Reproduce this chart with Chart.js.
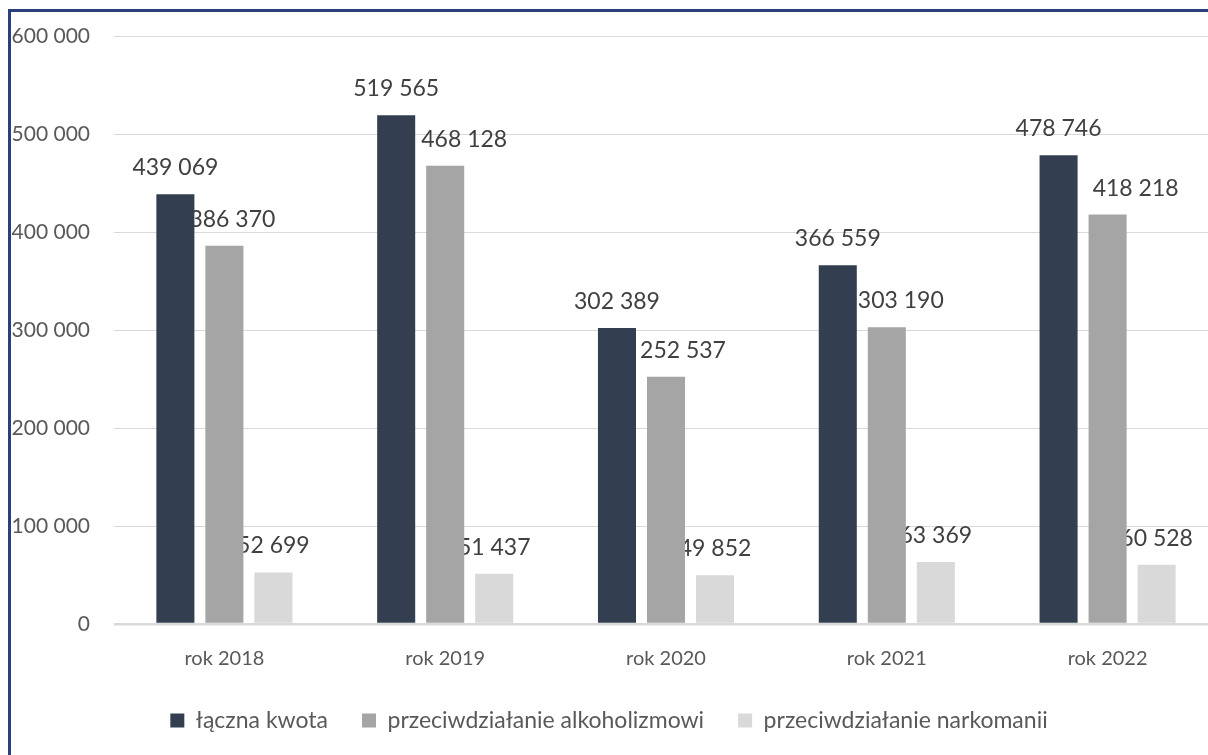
<!DOCTYPE html>
<html>
<head>
<meta charset="utf-8">
<script src="https://cdn.jsdelivr.net/npm/chart.js@4"></script>
<style>
  body { margin: 0; background: #fff; overflow: hidden; width: 1208px; height: 755px; }
  #frame { position: absolute; left: 8px; top: 9px; width: 1300px; height: 900px; border: 3px solid #2A3F7C; }
  #box { position: absolute; left: 0; top: 0; width: 1220px; height: 755px; }
</style>
</head>
<body>
<div id="frame"></div>
<div id="box"><canvas id="chart"></canvas></div>
<script>
const years = ['rok 2018', 'rok 2019', 'rok 2020', 'rok 2021', 'rok 2022'];
const total = [439069, 519565, 302389, 366559, 478746];
const alcohol = [386370, 468128, 252537, 303190, 418218];
const drugs = [52699, 51437, 49852, 63369, 60528];

const txt = '#595959';
const font = 'Lato, "Noto Sans", sans-serif';

function spaced(v) {
    return v.toString().replace(/\B(?=(\d{3})+(?!\d))/g, ' ');
}

// labels go under the bars, like in the original
// the middle series had its labels pushed to the right a bit
const valueLabels = {
    id: 'valueLabels',
    beforeDatasetsDraw(chart, args, opts) {
        const ctx = chart.ctx;
        ctx.save();
        ctx.font = '23px ' + font;
        ctx.fillStyle = '#404040';
        ctx.textAlign = 'center';
        ctx.textBaseline = 'alphabetic';
        chart.data.datasets.forEach((ds, i) => {
            const shift = opts.shift[i] || [];
            chart.getDatasetMeta(i).data.forEach((bar, j) => {
                ctx.fillText(spaced(ds.data[j]), bar.x + (shift[j] || 0), bar.y - 19);
            });
        });
        ctx.restore();
    }
};

const chart = new Chart(document.getElementById('chart'), {
    type: 'bar',
    data: {
        labels: years,
        datasets: [
            { label: 'łączna kwota', data: total, backgroundColor: '#333F50' },
            { label: 'przeciwdziałanie alkoholizmowi', data: alcohol, backgroundColor: '#A5A5A5' },
            { label: 'przeciwdziałanie narkomanii', data: drugs, backgroundColor: '#D9D9D9' }
        ]
    },
    options: {
        responsive: true,
        maintainAspectRatio: false,
        animation: false,
        categoryPercentage: 0.666,
        barPercentage: 0.776,
        layout: { padding: { top: 35, left: 0, right: 2, bottom: 13 } },
        plugins: {
            tooltip: { enabled: false },
            valueLabels: { shift: [[], [8, 19, 17, 14, 28], []] },
            legend: {
                position: 'bottom',
                labels: {
                    color: txt,
                    font: { family: font, size: 23 },
                    boxWidth: 14,
                    boxHeight: 14,
                    padding: 34
                }
            }
        },
        scales: {
            x: {
                grid: { display: false },
                border: { display: false },
                ticks: { color: txt, font: { family: font, size: 20 }, padding: 15 },
                afterFit: (s) => { s.height = 51; }
            },
            y: {
                min: 0,
                max: 600000,
                ticks: {
                    stepSize: 100000,
                    color: txt,
                    font: { family: font, size: 21 },
                    padding: 24,
                    callback: (v) => spaced(v)
                },
                grid: {
                    color: '#D9D9D9',
                    drawTicks: false,
                    lineWidth: (c) => c.tick && c.tick.value === 0 ? 2.5 : 1
                },
                border: { display: false },
                afterFit: (s) => { s.width = 114; }
            }
        }
    },
    plugins: [valueLabels]
});
</script>
</body>
</html>
